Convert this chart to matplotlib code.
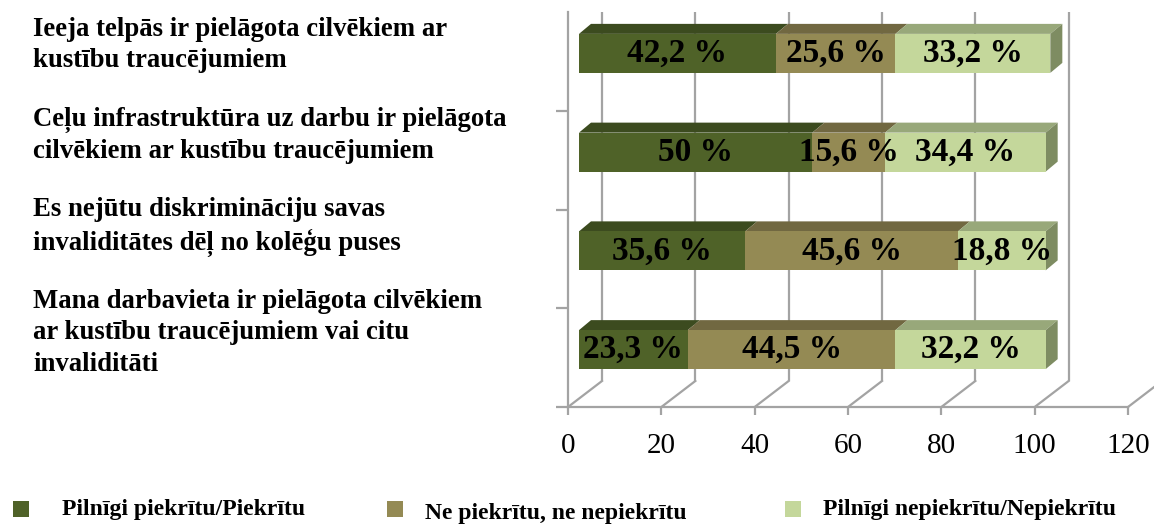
import matplotlib
matplotlib.use("Agg")
import matplotlib.pyplot as plt
from matplotlib.patches import Polygon, Rectangle
from matplotlib.transforms import offset_copy
import numpy as np

# ---------------- data ----------------
categories = [
    "Ieeja telpās ir pielāgota cilvēkiem ar\nkustību traucējumiem",
    "Ceļu infrastruktūra uz darbu ir pielāgota\ncilvēkiem ar kustību traucējumiem",
    "Es nejūtu diskrimināciju savas\ninvaliditātes dēļ no kolēģu puses",
    "Mana darbavieta ir pielāgota cilvēkiem\nar kustību traucējumiem vai citu\ninvaliditāti",
]
agree = [42.2, 50.0, 35.6, 23.3]
neutral = [25.6, 15.6, 45.6, 44.5]
disagree = [33.2, 34.4, 18.8, 32.2]
series_names = ["Pilnīgi piekrītu/Piekrītu", "Ne piekrītu, ne nepiekrītu",
                "Pilnīgi nepiekrītu/Nepiekrītu"]
x_ticks = [0, 20, 40, 60, 80, 100, 120]

# ---------------- style ----------------
front_cols = ["#4F6228", "#948A54", "#C4D79B"]
top_cols = ["#3C4B1F", "#716841", "#98A87A"]
side_col = "#7E8C62"
grid_col = "#A3A3A3"
FONT = "Liberation Serif"

W, H, DPI = 1154, 524, 100
fig = plt.figure(figsize=(W / DPI, H / DPI), dpi=DPI)

# axes frame in pixels (front plane)
x0_px, x1_px, y_bot_px, y_top_px = 568, 1128, 407, 12
ax = fig.add_axes([x0_px / W, (H - y_bot_px) / H, (x1_px - x0_px) / W,
                   (y_bot_px - y_top_px) / H])
ax.set_xlim(0, 120)
ax.set_ylim(0, 4)
ax.patch.set_visible(False)

px_x = (x1_px - x0_px) / 120.0
px_y = (y_bot_px - y_top_px) / 4.0

def off(dx, dy):
    return offset_copy(ax.transData, fig=fig, x=dx, y=dy, units="dots")

# depth of the 3-D box (pixels)
DEPTH_X, DEPTH_Y = 34, 26
# bar placement in depth and its thickness
BAR_DX, BAR_DY = 11, 8
TOP_DX, TOP_DY = 12, 10
bar_h = 39 / px_y

# spines / ticks
for s in ["top", "right"]:
    ax.spines[s].set_visible(False)
for s in ["left", "bottom"]:
    ax.spines[s].set_color(grid_col)
    ax.spines[s].set_linewidth(1.6)
ax.set_xticks(x_ticks)
ax.set_xticklabels([str(t) for t in x_ticks], fontfamily=FONT, fontsize=21)
ax.set_yticks([0, 1, 2, 3])
ax.set_yticklabels([])
ax.tick_params(axis="x", length=6, width=1.6, color=grid_col, pad=12.5)
ax.tick_params(axis="y", length=9, width=1.6, color=grid_col)

# back wall gridlines
tb = off(DEPTH_X, DEPTH_Y)
ax.vlines(x_ticks, 0, 4, colors=grid_col, linewidth=1.6, transform=tb, zorder=1)
# floor diagonals
dXd, dYd = DEPTH_X / px_x, DEPTH_Y / px_y
for t in x_ticks:
    ax.plot([t, t + dXd], [0, dYd], color=grid_col, linewidth=1.6,
            clip_on=False, zorder=1)

# bars
tbar = off(BAR_DX, BAR_DY)
n = len(categories)
centers = [n - 0.5 - i for i in range(n)]
dXt, dYt = TOP_DX / px_x, TOP_DY / px_y
series = [agree, neutral, disagree]

def fmt(v):
    return "{:g}".format(v).replace(".", ",") + " %"

for i, yc in enumerate(centers):
    left = 0.0
    yb, yt = yc - bar_h / 2, yc + bar_h / 2
    for k, vals in enumerate(series):
        v = vals[i]
        ax.barh(yc, v, left=left, height=bar_h, color=front_cols[k],
                edgecolor="none", transform=tbar, zorder=3)
        ax.add_patch(Polygon([[left, yt], [left + v, yt],
                              [left + v + dXt, yt + dYt], [left + dXt, yt + dYt]],
                             closed=True, facecolor=top_cols[k], edgecolor="none",
                             transform=tbar, zorder=2))
        if k == len(series) - 1:
            r = left + v
            ax.add_patch(Polygon([[r, yb], [r, yt], [r + dXt, yt + dYt],
                                  [r + dXt, yb + dYt]], closed=True,
                                 facecolor=side_col, edgecolor="none",
                                 transform=tbar, zorder=2))
        ax.text(left + v / 2, yc, fmt(v), ha="center", va="center",
                fontfamily=FONT, fontweight="bold", fontsize=24,
                color="black", transform=tbar, zorder=5)
        left += v

# category labels on the left
label_tops = [17, 107, 197, 289]
for lab, ytop in zip(categories, label_tops):
    fig.text(33 / W, 1 - ytop / H, lab, ha="left", va="top", fontfamily=FONT,
             fontweight="bold", fontsize=19.3, linespacing=1.33)

# legend
leg_sq_x = [13, 387, 785]
leg_txt_x = [62, 425, 823]
leg_txt_y = [509, 514, 509]
for k in range(3):
    fig.patches.append(Rectangle((leg_sq_x[k] / W, 1 - 517 / H), 16 / W, 16 / H,
                                 transform=fig.transFigure, facecolor=front_cols[k],
                                 edgecolor="none"))
    fig.text(leg_txt_x[k] / W, 1 - leg_txt_y[k] / H, series_names[k], ha="left",
             va="center", fontfamily=FONT, fontweight="bold", fontsize=17)

fig.savefig("out.png", dpi=DPI)
